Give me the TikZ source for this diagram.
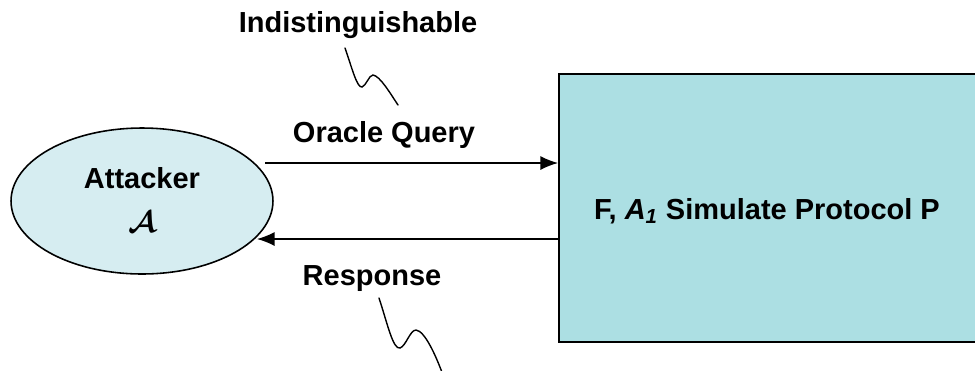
\documentclass[tikz,border=0pt]{standalone}
\usepackage{amsmath}
\usepackage{bm}
\usepackage{fontspec}
\setmainfont{Liberation Sans}
\usetikzlibrary{arrows.meta,shapes.geometric}

\definecolor{attfill}{RGB}{214,237,241}
\definecolor{simfill}{RGB}{172,223,227}

\tikzset{
  lbl/.style={font=\fontsize{16.5}{19}\selectfont\bfseries},
  conn/.style={-{Latex[length=10pt,width=8pt]},line width=0.8pt},
  squig/.style={line width=0.8pt,line cap=round},
}

\begin{document}
\begin{tikzpicture}[x=0.02cm,y=-0.02cm]
   \useasboundingbox (0,0) rectangle (975,370);
   \clip (0,0) rectangle (975,370);
   %attacker
   \node[draw,ellipse,fill=attfill,line width=0.9pt,inner sep=0pt,
         minimum width=5.24cm,minimum height=2.92cm] (attacker) at (142,201) {};
   \node[lbl] (atttxt) at (142,178) {Attacker};
   \node[lbl] (attsym) at (142,222) {$\bm{\mathcal{A}}$};
   %simulator box
   \node[draw,fill=simfill,line width=1.1pt,anchor=north west,inner sep=0pt,
         minimum width=9cm,minimum height=5.36cm] (sim) at (558,73) {};
   \node[lbl] (simtxt) at (767,211) {F, \textit{A\textsubscript{1}} Simulate Protocol P};
   %arrows
   \coordinate (q0) at (265,163);
   \coordinate (r1) at (257,239);
   \draw[conn] (q0) -- (q0 -| sim.west);
   \draw[conn] (r1 -| sim.west) -- (r1);
   %labels
   \node[lbl] (ind) at (358,25) {Indistinguishable};
   \node[lbl] (query) at (384,135) {Oracle Query};
   \node[lbl] (resp) at (372,279) {Response};
   %squiggles
   \coordinate (s1) at (345,48);
   \coordinate (s2) at (379,298);
   \draw[squig] (s1) .. controls (352,68) and (357,88) .. (362,87)
                .. controls (366,86) and (369,75) .. (373,75)
                .. controls (380,76) and (390,93) .. (398,105);
   \draw[squig] (s2) .. controls (387,322) and (393,350) .. (400,348)
                .. controls (406,346) and (410,330) .. (416,330)
                .. controls (425,331) and (436,356) .. (443,375);
\end{tikzpicture}
\end{document}
